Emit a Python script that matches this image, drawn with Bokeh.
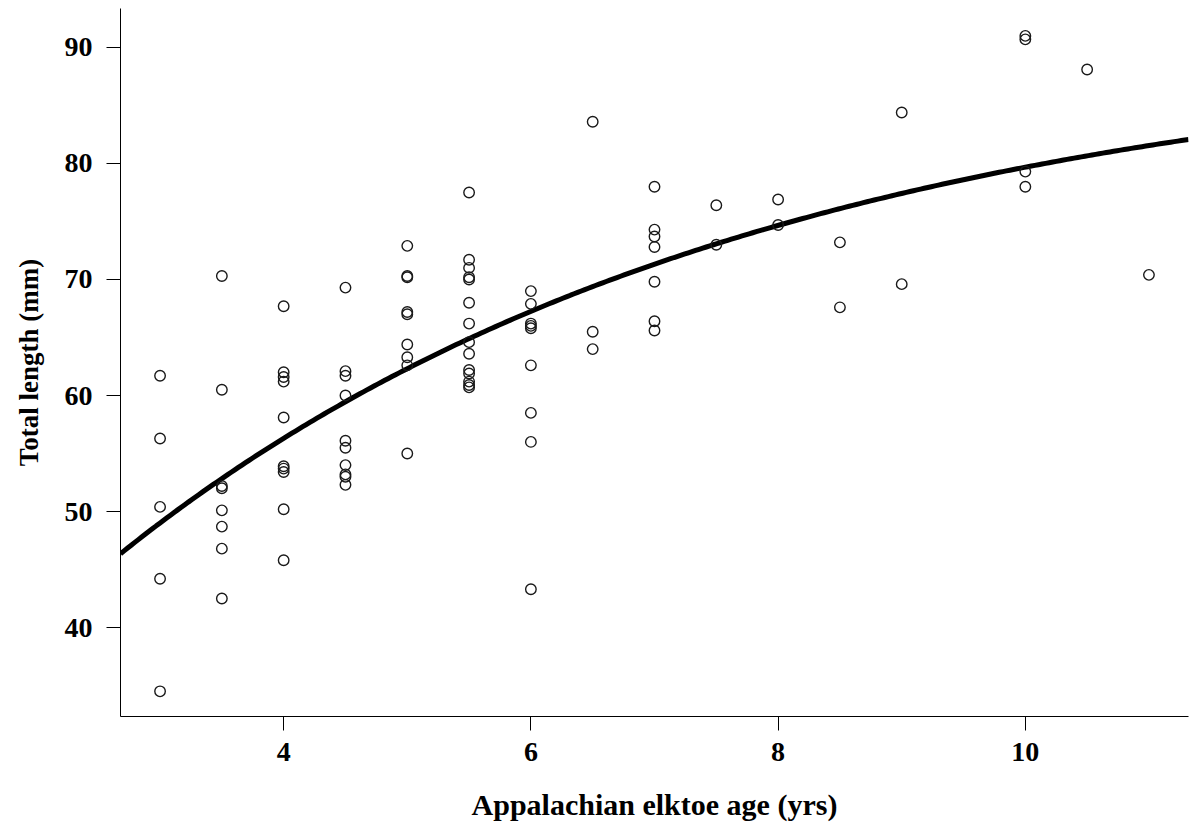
import numpy as np
from bokeh.plotting import figure
from bokeh.models import Range1d, FixedTicker, ColumnDataSource
from bokeh.embed import file_html
from bokeh.resources import INLINE

# Observed ages (yrs) and total lengths (mm) of Appalachian elktoe
age = [
    3, 3, 3, 3, 3,
    3.5, 3.5, 3.5, 3.5, 3.5, 3.5, 3.5, 3.5,
    4, 4, 4, 4, 4, 4, 4, 4, 4, 4,
    4.5, 4.5, 4.5, 4.5, 4.5, 4.5, 4.5, 4.5, 4.5, 4.5,
    5, 5, 5, 5, 5, 5, 5, 5, 5,
    5.5, 5.5, 5.5, 5.5, 5.5, 5.5, 5.5, 5.5, 5.5, 5.5, 5.5, 5.5, 5.5, 5.5,
    6, 6, 6, 6, 6, 6, 6, 6, 6,
    6.5, 6.5, 6.5,
    7, 7, 7, 7, 7, 7, 7,
    7.5, 7.5,
    8, 8,
    8.5, 8.5,
    9, 9,
    10, 10, 10, 10,
    10.5,
    11,
]
total_length = [
    61.7, 56.3, 50.4, 44.2, 34.5,
    70.3, 60.5, 52.2, 52.0, 50.1, 48.7, 46.8, 42.5,
    67.7, 62.0, 61.6, 61.2, 58.1, 53.9, 53.7, 53.4, 50.2, 45.8,
    69.3, 62.1, 61.7, 60.0, 56.1, 55.5, 54.0, 53.2, 53.0, 52.3,
    72.9, 70.3, 70.2, 67.2, 67.0, 64.4, 63.3, 62.6, 55.0,
    77.5, 71.7, 71.0, 70.2, 70.0, 68.0, 66.2, 64.6, 63.6, 62.2, 61.9, 61.2, 60.9, 60.7,
    69.0, 67.9, 66.2, 66.0, 65.8, 62.6, 58.5, 56.0, 43.3,
    83.6, 65.5, 64.0,
    78.0, 74.3, 73.7, 72.8, 69.8, 66.4, 65.6,
    76.4, 73.0,
    76.9, 74.7,
    73.2, 67.6,
    84.4, 69.6,
    91.0, 90.7, 79.3, 78.0,
    88.1,
    70.4,
]

# von Bertalanffy growth model parameters
L_inf = 90.2
k_growth = 0.195
t_zero = -1.02

x_ticks = [4, 6, 8, 10]
y_ticks = [40, 50, 60, 70, 80, 90]

x_lo, x_hi = 2.68, 11.32
y_lo, y_hi = 32.33, 93.36

p = figure(
    width=1190, height=832,
    output_backend="svg", toolbar_location=None,
    x_range=Range1d(x_lo, x_hi), y_range=Range1d(y_lo, y_hi),
    min_border_left=120, min_border_right=2,
    min_border_top=8, min_border_bottom=116,
    background_fill_color="white", border_fill_color="white",
)
p.outline_line_color = None
p.grid.visible = False

fit_t = np.linspace(x_lo, x_hi, 300)
fit_L = L_inf * (1.0 - np.exp(-k_growth * (fit_t - t_zero)))
p.line(fit_t, fit_L, line_width=5, line_color="black")

src = ColumnDataSource(dict(age=age, length=total_length))
p.scatter("age", "length", source=src, marker="circle", size=10.5,
          fill_color=None, line_color="#1a1a1a", line_width=1.4)

font = "Liberation Serif"
for ax in (p.xaxis[0], p.yaxis[0]):
    ax.axis_line_color = "black"
    ax.axis_line_width = 1
    ax.major_tick_line_color = "black"
    ax.major_tick_line_width = 1
    ax.major_tick_in = 0
    ax.major_tick_out = 14
    ax.minor_tick_line_color = None
    ax.major_label_text_font = font
    ax.major_label_text_font_style = "bold"
    ax.major_label_text_font_size = "28px"
    ax.major_label_text_color = "black"
    ax.axis_label_text_font = font
    ax.axis_label_text_font_style = "bold"
    ax.axis_label_text_color = "black"

p.xaxis.ticker = FixedTicker(ticks=x_ticks)
p.yaxis.ticker = FixedTicker(ticks=y_ticks)
p.xaxis.major_label_standoff = 12
p.yaxis.major_label_standoff = 14

p.xaxis.axis_label = "Appalachian elktoe age (yrs)"
p.yaxis.axis_label = "Total length (mm)"
p.xaxis.axis_label_text_font_size = "30px"
p.yaxis.axis_label_text_font_size = "27px"
p.xaxis.axis_label_standoff = 24
p.yaxis.axis_label_standoff = 18

open("out.html", "w").write(file_html(p, INLINE))
